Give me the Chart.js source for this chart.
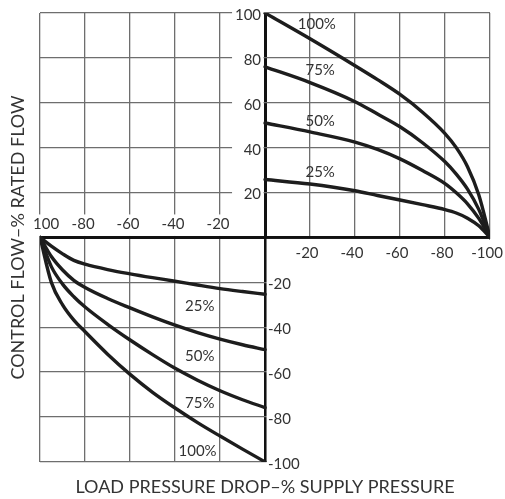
<!DOCTYPE html>
<html lang="en">
<head>
  <meta charset="UTF-8">
  <title>Control Flow vs Load Pressure Drop</title>
  <script src="https://cdn.jsdelivr.net/npm/chart.js"></script>
  <style>
    body {
      margin: 0;
      background: #fff;
    }
    #wrap {
      width: 505px;
      height: 499px;
    }
  </style>
</head>
<body>

<div id="wrap"><canvas id="chart" width="505" height="499"></canvas></div>

<script>
  // upper right quadrant: load pressure drop 0 .. -100 % (drawn to the right)
  const dropUpper = [0, 20, 40, 50, 60, 70, 80, 85, 90, 95, 100];
  const flowUpper100 = [100, 88.5, 76.5, 70.3, 63.7, 55.8, 46.3, 40, 31.5, 19, 0];
  const flowUpper75 = [76, 69, 60.5, 55, 49.3, 42.2, 33.7, 28.2, 21.5, 12.5, 0];
  const flowUpper50 = [51, 47, 42.5, 39.2, 35, 29.8, 24, 19.9, 15, 8.5, 0];
  const flowUpper25 = [25.8, 23.8, 20.8, 18.7, 16.7, 14.6, 12.4, 10.9, 8.6, 5.2, 0];

  // lower left quadrant: load pressure drop 100 .. 0 % (drawn from the left)
  const dropLower = [-100, -95, -90, -85, -80, -70, -60, -50, -40, -30, -20, -10, 0];
  const flowLower25 = [0, -3.9, -7.3, -10.2, -11.9, -14.3, -16.2, -17.9, -19.5, -21.2, -22.8, -24.1, -25.3];
  const flowLower50 = [0, -8.5, -14.5, -19.1, -22.3, -27.2, -31.4, -35.4, -39.1, -42.4, -45.3, -47.8, -50];
  const flowLower75 = [0, -13, -20.8, -26.4, -31, -38.7, -45.7, -52.2, -58.3, -63.6, -68.3, -72.3, -75.8];
  const flowLower100 = [0, -20, -30, -36.8, -42, -52, -61, -69, -76, -82.5, -88.5, -94.3, -100];

  const xTickValues = [-100, -80, -60, -40, -20, 20, 40, 60, 80, 100];
  const xTickLabels = ['100', '-80', '-60', '-40', '-20', '-20', '-40', '-60', '-80', '-100'];
  const yTickValues = [100, 80, 60, 40, 20, -20, -40, -60, -80, -100];
  const yTickLabels = ['100', '80', '60', '40', '20', '-20', '-40', '-60', '-80', '-100'];

  // where the curve names sit, in chart units
  const curveNotes = [
    {text: '100%', x: 23, y: 95},
    {text: '75%', x: 24.5, y: 74.5},
    {text: '50%', x: 24.5, y: 52},
    {text: '25%', x: 24.5, y: 29},
    {text: '25%', x: -29, y: -30.5},
    {text: '50%', x: -29, y: -53},
    {text: '75%', x: -29, y: -74},
    {text: '100%', x: -30, y: -95}
  ];

  const ink = '#1d1d1d';
  const textColor = '#333';
  const font = 'Lato';

  function curve(xs, ys) {
    return {
      data: xs.map((v, i) => ({x: v, y: ys[i]})),
      borderColor: ink,
      borderWidth: 3.4,
      pointRadius: 0,
      fill: false,
      cubicInterpolationMode: 'monotone',
      borderCapStyle: 'round'
    };
  }

  const quadrants = {
    id: 'quadrants',
    beforeDatasetsDraw(chart) {
      const {ctx, chartArea: a, scales: {x, y}} = chart;
      const x0 = x.getPixelForValue(0);
      const y0 = y.getPixelForValue(0);
      ctx.save();
      ctx.fillStyle = '#fff';
      // lower right quadrant has no grid
      ctx.fillRect(x0 + 1.5, y0 + 1.5, a.right - x0 + 4, a.bottom - y0 + 4);
      // blank bands behind the tick labels
      ctx.fillRect(a.left - 2, y0 - 23, x0 - a.left + 0.5, 21.5);
      ctx.fillRect(x0 - 33, a.top - 2, 31.5, y0 - a.top + 0.5);
      ctx.restore();
    },
    afterDatasetsDraw(chart) {
      const {ctx, scales: {x, y}} = chart;
      const x0 = x.getPixelForValue(0);
      const y0 = y.getPixelForValue(0);
      ctx.save();
      ctx.fillStyle = textColor;
      ctx.font = '15px ' + font;
      ctx.textBaseline = 'middle';

      xTickValues.forEach((v, i) => {
        const px = x.getPixelForValue(v);
        ctx.textAlign = 'center';
        if (v < 0) {
          ctx.fillText(xTickLabels[i], px + (v === -100 ? 6 : -2), y0 - 13);
        } else {
          ctx.fillText(xTickLabels[i], px - 3, y0 + 16);
        }
      });

      yTickValues.forEach((v, i) => {
        const py = y.getPixelForValue(v) + 2;
        if (v > 0) {
          ctx.textAlign = 'right';
          ctx.fillText(yTickLabels[i], x0 - 4, py);
        } else {
          ctx.textAlign = 'left';
          ctx.fillText(yTickLabels[i], x0 + 3, py);
        }
      });

      ctx.textAlign = 'center';
      curveNotes.forEach(n => {
        ctx.fillText(n.text, x.getPixelForValue(n.x), y.getPixelForValue(n.y));
      });
      ctx.restore();
    }
  };

  const gridOpts = {
    drawTicks: false,
    color: c => c.tick.value === 0 ? '#111' : '#6e6e6e',
    lineWidth: c => c.tick.value === 0 ? 3 : 1.3
  };

  new Chart(document.getElementById('chart'), {
    type: 'line',
    data: {
      datasets: [
        curve(dropUpper, flowUpper100),
        curve(dropUpper, flowUpper75),
        curve(dropUpper, flowUpper50),
        curve(dropUpper, flowUpper25),
        curve(dropLower, flowLower25),
        curve(dropLower, flowLower50),
        curve(dropLower, flowLower75),
        curve(dropLower, flowLower100)
      ]
    },
    options: {
      responsive: false,
      animation: false,
      layout: {
        padding: {top: 13, right: 15, left: 0, bottom: 0}
      },
      plugins: {
        legend: { display: false },
        tooltip: { enabled: false }
      },
      scales: {
        x: {
          type: 'linear',
          min: -100,
          max: 100,
          ticks: { display: false, stepSize: 20 },
          grid: gridOpts,
          border: { display: false },
          title: {
            display: true,
            text: 'LOAD PRESSURE DROP–% SUPPLY PRESSURE',
            color: textColor,
            font: { family: font, size: 18 },
            padding: { top: 14, bottom: 1.5 }
          }
        },
        y: {
          type: 'linear',
          min: -100,
          max: 100,
          ticks: { display: false, stepSize: 20 },
          grid: gridOpts,
          border: { display: false },
          title: {
            display: true,
            text: 'CONTROL FLOW–% RATED FLOW',
            color: textColor,
            font: { family: font, size: 18 },
            padding: { top: 7.5, bottom: 11 }
          }
        }
      }
    },
    plugins: [quadrants]
  });
</script>

</body>
</html>
